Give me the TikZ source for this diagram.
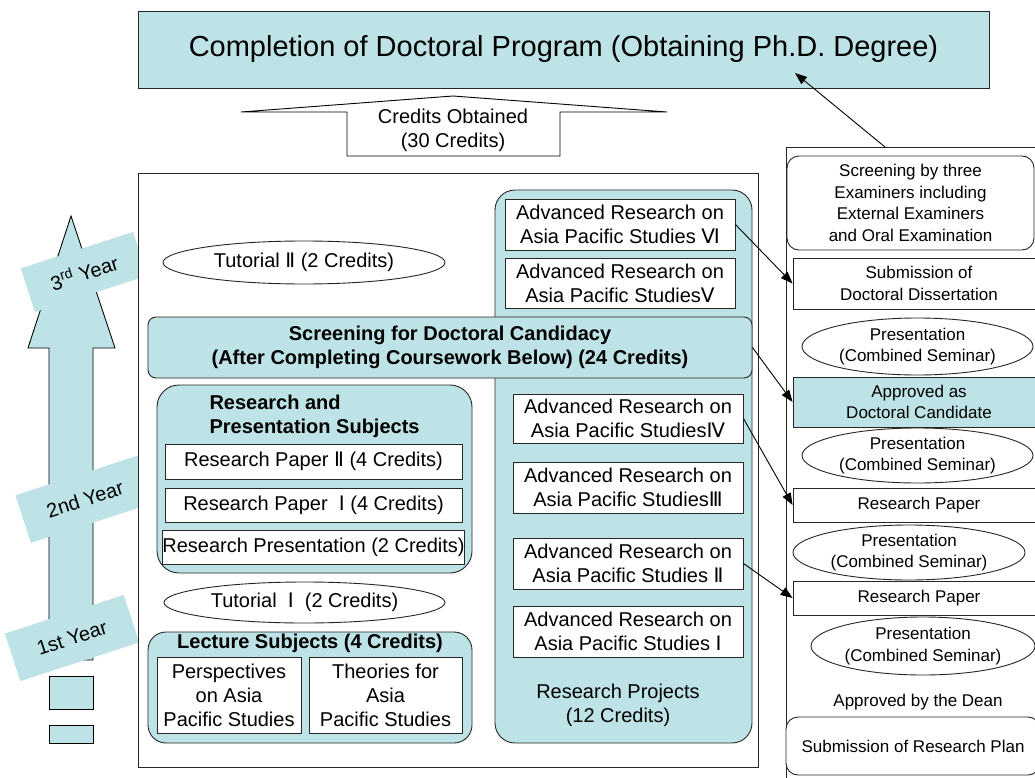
\documentclass[tikz,border=0pt]{standalone}
\usepackage{fontspec}
\setmainfont{Liberation Sans}
\newfontfamily\romfont{DejaVu Sans}
\usetikzlibrary{arrows.meta,shapes.geometric}
\definecolor{paleblue}{RGB}{189,227,231}
\newcommand{\rn}[1]{{\romfont #1}}
\newcommand{\sizeXL}{\fontsize{29}{34}\selectfont}
\newcommand{\sizeM}{\fontsize{20}{24}\selectfont}
\newcommand{\sizeS}{\fontsize{17}{21.5}\selectfont}
\tikzset{
	bluebox/.style={draw=black!85, fill=paleblue, line width=0.9pt, inner sep=0pt, align=center},
	whitebox/.style={draw=black!85, fill=white, line width=0.9pt, inner sep=0pt, align=center},
	oval/.style={ellipse, draw=black!85, fill=white, line width=0.9pt, inner sep=0pt, align=center},
	yearlabel/.style={fill=paleblue, inner sep=0pt, rotate=18},
	link/.style={-{Triangle[length=12pt,width=9pt]}, line width=0.9pt},
}
\begin{document}
\begin{tikzpicture}[x=1pt, y=-1pt, font=\sizeM]
	\useasboundingbox (0,0) rectangle (1035,778);
	\clip (0,0) rectangle (1035,778);
	% goal and credits
	\node (title) at (563.5, 49.5)	[bluebox, minimum width=851pt, minimum height=77pt]	{\sizeXL Completion of Doctoral Program (Obtaining Ph.D. Degree)};
	\draw[fill=white, line width=0.9pt] (347,156) -- (347,112) -- (241,112) -- (453,96) -- (667,112) -- (560,112) -- (560,156) -- cycle;
	\node (credits) at (453, 130)	[align=center]	{Credits Obtained\\(30 Credits)};
	% year arrow
	\draw[fill=paleblue, line width=0.9pt] (49,660) -- (49,348) -- (28,348) -- (71,216) -- (115,348) -- (93,348) -- (93,660) -- cycle;
	\draw[fill=paleblue, line width=0.9pt] (49,676) rectangle (93,709);
	\draw[fill=paleblue, line width=0.9pt] (49,725) rectangle (93,743);
	\node (y3) at (84, 272)	[yearlabel, minimum width=118pt, minimum height=46pt]	{3\textsuperscript{rd} Year};
	\node (y2) at (85, 499)	[yearlabel, minimum width=130pt, minimum height=50pt]	{2nd Year};
	\node (y1) at (72, 638)	[yearlabel, minimum width=125pt, minimum height=50pt]	{1st Year};
	% coursework
	\node (frame) at (448, 470)	[whitebox, minimum width=620pt, minimum height=594pt]	{};
	\node (proj) at (623.5, 466.5)	[bluebox, rounded corners=20pt, minimum width=257pt, minimum height=553pt]	{};
	\node (projtxt) at (618, 705)	[align=center]	{Research Projects\\(12 Credits)};
	\node (ar6) at (620, 224.5)	[whitebox, minimum width=230pt, minimum height=51pt]	{Advanced Research on\\Asia Pacific Studies \rn{Ⅵ}};
	\node (ar5) at (620, 283)	[whitebox, minimum width=230pt, minimum height=50pt]	{Advanced Research on\\Asia Pacific Studies\rn{Ⅴ}};
	\node (ar4) at (628, 418.5)	[whitebox, minimum width=230pt, minimum height=49pt]	{Advanced Research on\\Asia Pacific Studies\rn{Ⅳ}};
	\node (ar3) at (628, 487.5)	[whitebox, minimum width=230pt, minimum height=51pt]	{Advanced Research on\\Asia Pacific Studies\rn{Ⅲ}};
	\node (ar2) at (628, 563.5)	[whitebox, minimum width=230pt, minimum height=51pt]	{Advanced Research on\\Asia Pacific Studies \rn{Ⅱ}};
	\node (ar1) at (628, 631.5)	[whitebox, minimum width=230pt, minimum height=51pt]	{Advanced Research on\\Asia Pacific Studies \rn{Ⅰ}};
	\node (tut2) at (304, 262.5)	[oval, minimum width=282pt, minimum height=43pt]	{Tutorial \rn{Ⅱ} (2 Credits)};
	\node (screen) at (450, 347.5)	[bluebox, rounded corners=8pt, minimum width=604pt, minimum height=61pt, font=\sizeM\bfseries]	{Screening for Doctoral Candidacy\\(After Completing Coursework Below) (24 Credits)};
	\node (rps) at (314.5, 479)	[bluebox, rounded corners=22pt, minimum width=315pt, minimum height=188pt]	{};
	\node (rpstitle) at (206, 416)	[anchor=west, align=left, font=\sizeM\bfseries]	{Research and\\Presentation Subjects};
	\node (paper2) at (313.5, 461.5)	[whitebox, minimum width=297pt, minimum height=35pt]	{Research Paper \rn{Ⅱ} (4 Credits)};
	\node (paper1) at (313.5, 505)	[whitebox, minimum width=297pt, minimum height=34pt]	{Research Paper \ \rn{Ⅰ} (4 Credits)};
	\node (pres) at (313.5, 547)	[whitebox, minimum width=297pt, minimum height=34pt]	{Research Presentation (2 Credits)};
	\node (tut1) at (304.5, 602.5)	[oval, minimum width=281pt, minimum height=41pt]	{Tutorial \ \rn{Ⅰ} \ (2 Credits)};
	\node (lect) at (310, 687.5)	[bluebox, rounded corners=18pt, minimum width=324pt, minimum height=111pt]	{};
	\node (lecttitle) at (310, 643)	[font=\sizeM\bfseries]	{Lecture Subjects (4 Credits)};
	\node (persp) at (229, 695)	[whitebox, minimum width=144pt, minimum height=76pt]	{Perspectives\\on Asia\\Pacific Studies};
	\node (theor) at (385.5, 695)	[whitebox, minimum width=153pt, minimum height=76pt]	{Theories for\\Asia\\Pacific Studies};
	% dissertation steps
	\node (rcol) at (915.5, 468.5)	[whitebox, minimum width=259pt, minimum height=643pt]	{};
	\node (exam) at (910.5, 203)	[whitebox, rounded corners=12pt, minimum width=247pt, minimum height=94pt, font=\sizeS]	{Screening by three\\Examiners including\\External Examiners\\and Oral Examination};
	\node (diss) at (919, 283.5)	[whitebox, minimum width=252pt, minimum height=51pt, font=\sizeS]	{Submission of\\Doctoral Dissertation};
	\node (sem4) at (917.5, 346.5)	[oval, minimum width=231pt, minimum height=57pt, font=\sizeS]	{Presentation\\(Combined Seminar)};
	\node (cand) at (919, 402)	[bluebox, minimum width=252pt, minimum height=50pt, font=\sizeS]	{Approved as\\Doctoral Candidate};
	\node (sem3) at (917.5, 455.5)	[oval, minimum width=231pt, minimum height=55pt, font=\sizeS]	{Presentation\\(Combined Seminar)};
	\node (rp2) at (919, 505)	[whitebox, minimum width=252pt, minimum height=34pt, font=\sizeS]	{Research Paper};
	\node (sem2) at (909, 552.5)	[oval, minimum width=232pt, minimum height=55pt, font=\sizeS]	{Presentation\\(Combined Seminar)};
	\node (rp1) at (919, 598)	[whitebox, minimum width=252pt, minimum height=34pt, font=\sizeS]	{Research Paper};
	\node (sem1) at (923, 646)	[oval, minimum width=224pt, minimum height=58pt, font=\sizeS]	{Presentation\\(Combined Seminar)};
	\node (dean) at (918, 702)	[font=\sizeS]	{Approved by the Dean};
	\node (plan) at (913, 746)	[whitebox, rounded corners=12pt, minimum width=254pt, minimum height=58pt, font=\sizeS]	{Submission of Research Plan};
	% links
	\coordinate (rtop) at (885, 147);
	\coordinate (ttip) at (795, 73);
	\draw[link] (rtop) -- (ttip);
	\draw[link] (ar6.east) -- (diss.west);
	\draw[link] (screen.east) -- (cand.west);
	\draw[link] (ar4.east) -- (rp2.west);
	\draw[link] (ar2.east) -- (rp1.west);
\end{tikzpicture}
\end{document}
